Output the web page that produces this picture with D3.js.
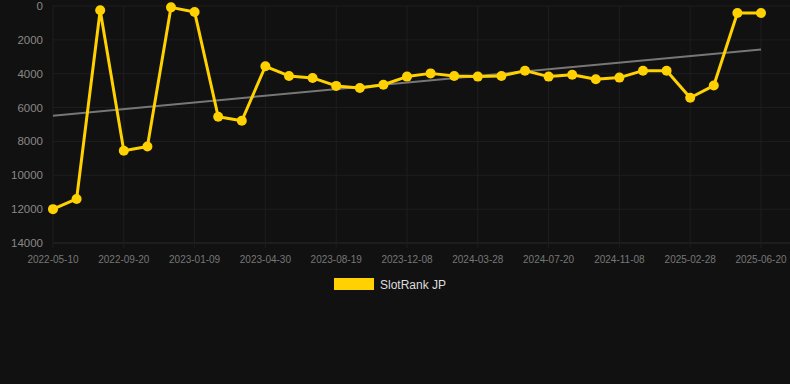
<!DOCTYPE html>
<html>
<head>
<meta charset="utf-8">
<script src="https://cdn.jsdelivr.net/npm/d3@7"></script>
<style>
  html, body { margin: 0; padding: 0; background: #111111; }
  svg { display: block; font-family: "Liberation Sans", Arial, sans-serif; }
</style>
</head>
<body>
<div id="chart"></div>
<script>
// Dates of each snapshot (labelled ones, in-between ones estimated)
const dates = [
    "2022-05-10", "2022-06-24", "2022-08-06",
    "2022-09-20", "2022-10-27", "2022-12-03",
    "2023-01-09", "2023-02-15", "2023-03-24",
    "2023-04-30", "2023-06-06", "2023-07-13",
    "2023-08-19", "2023-09-25", "2023-11-01",
    "2023-12-08", "2024-01-14", "2024-02-20",
    "2024-03-28", "2024-05-04", "2024-06-12",
    "2024-07-20", "2024-08-26", "2024-10-02",
    "2024-11-08", "2024-12-15", "2025-01-21",
    "2025-02-28", "2025-04-07", "2025-05-14",
    "2025-06-20"
];

// Rank values (lower is better, axis is reversed)
const ranks = [
    12000, 11400, 250,
    8550, 8300, 80,
    350, 6540, 6780,
    3560, 4130, 4250,
    4720, 4840, 4650,
    4170, 3980, 4130,
    4170, 4130, 3820,
    4170, 4060, 4330,
    4230, 3820, 3820,
    5420, 4700, 410,
    410
];

const yTicks = [0, 2000, 4000, 6000, 8000, 10000, 12000, 14000];
const seriesName = "SlotRank JP";

const width = 790;
const height = 384;
const margin = { top: 6, right: 29, bottom: 141, left: 53 };
const plotWidth = width - margin.left - margin.right;
const plotHeight = height - margin.top - margin.bottom;

const svg = d3.select("#chart")
    .append("svg")
    .attr("width", width)
    .attr("height", height);

svg.append("rect")
    .attr("width", width)
    .attr("height", height)
    .attr("fill", "#111111");

const g = svg.append("g")
    .attr("transform", `translate(${margin.left},${margin.top})`);

const x = d3.scalePoint()
    .domain(dates)
    .range([0, plotWidth]);

const y = d3.scaleLinear()
    .domain([0, 14000])
    .range([0, plotHeight]);

// Horizontal grid
g.append("g")
    .selectAll("line")
    .data(yTicks)
    .join("line")
    .attr("x1", 0)
    .attr("x2", width - margin.left)
    .attr("y1", d => y(d))
    .attr("y2", d => y(d))
    .attr("stroke", d => d === 14000 ? "#2a2a2a" : "#1e1e1e")
    .attr("stroke-width", 1);

// Vertical grid on labelled dates
const labelled = dates.filter((d, i) => i % 3 === 0);
g.append("g")
    .selectAll("line")
    .data(labelled)
    .join("line")
    .attr("x1", d => x(d))
    .attr("x2", d => x(d))
    .attr("y1", 0)
    .attr("y2", plotHeight + 5)
    .attr("stroke", "#1e1e1e")
    .attr("stroke-width", 1);

// Y axis labels
g.append("g")
    .selectAll("text")
    .data(yTicks)
    .join("text")
    .attr("x", -10)
    .attr("y", d => y(d))
    .attr("dy", "0.35em")
    .attr("text-anchor", "end")
    .attr("fill", "#888888")
    .style("font-size", "11.5px")
    .text(d => d);

// X axis labels
g.append("g")
    .selectAll("text")
    .data(labelled)
    .join("text")
    .attr("x", d => x(d))
    .attr("y", plotHeight + 20)
    .attr("text-anchor", "middle")
    .attr("fill", "#777777")
    .style("font-size", "10px")
    .text(d => d);

// Linear trend from the data
const idx = ranks.map((v, i) => i);
const mx = d3.mean(idx), my = d3.mean(ranks);
const slope = d3.sum(idx, i => (i - mx) * (ranks[i] - my)) / d3.sum(idx, i => (i - mx) * (i - mx));
const intercept = my - slope * mx;
const n = ranks.length - 1;

g.append("line")
    .attr("x1", x(dates[0]))
    .attr("y1", y(intercept))
    .attr("x2", x(dates[n]))
    .attr("y2", y(intercept + slope * n))
    .attr("stroke", "#777777")
    .attr("stroke-width", 2);

// Series line
const line = d3.line()
    .x((d, i) => x(dates[i]))
    .y(d => y(d));

g.append("path")
    .datum(ranks)
    .attr("fill", "none")
    .attr("stroke", "#FFD100")
    .attr("stroke-width", 3)
    .attr("stroke-linejoin", "round")
    .attr("d", line);

g.append("g")
    .selectAll("circle")
    .data(ranks)
    .join("circle")
    .attr("cx", (d, i) => x(dates[i]))
    .attr("cy", d => y(d))
    .attr("r", 5)
    .attr("fill", "#FFD100");

// Legend
const legend = svg.append("g")
    .attr("transform", "translate(334,278)");

legend.append("rect")
    .attr("width", 40)
    .attr("height", 12)
    .attr("fill", "#FFD100");

legend.append("text")
    .attr("x", 46)
    .attr("y", 10.5)
    .attr("fill", "#dddddd")
    .style("font-size", "12px")
    .text(seriesName);
</script>
</body>
</html>
